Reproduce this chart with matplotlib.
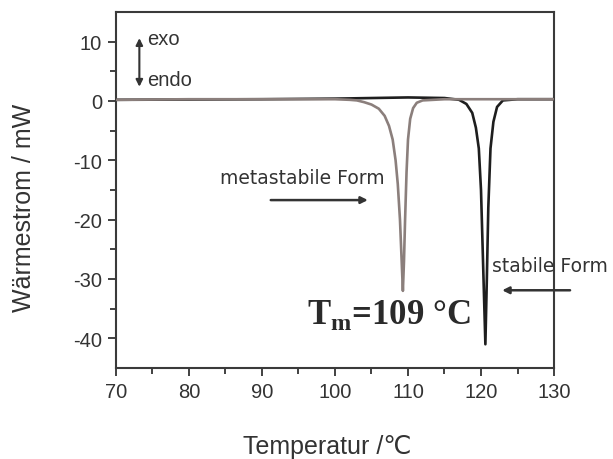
import matplotlib
matplotlib.use("Agg")
import matplotlib.pyplot as plt

# --- data ---
grey_T = [70, 80, 90, 100, 102, 103, 104, 105, 106, 106.8, 107.4, 107.9, 108.3, 108.6,
          108.9, 109.1, 109.3, 109.45, 109.6, 109.8, 110.0, 110.3, 110.7, 111.2, 112,
          115, 120, 125, 130]
grey_Q = [0.2, 0.3, 0.3, 0.3, 0.2, 0.1, -0.2, -0.6, -1.3, -2.5, -4.2, -6.5, -10, -14,
          -20, -26, -32, -27, -20, -12, -6.5, -3, -1.2, -0.3, 0.1,
          0.3, 0.3, 0.3, 0.3]

black_T = [70, 90, 100, 105, 110, 115, 117, 118, 118.8, 119.3, 119.7, 120.0, 120.3,
           120.6, 120.8, 121.0, 121.3, 121.7, 122.2, 123, 125, 130]
black_Q = [0.2, 0.3, 0.4, 0.5, 0.6, 0.5, 0.2, -0.5, -2, -4.5, -8, -15, -28,
           -41, -30, -18, -8, -3.5, -1, 0.1, 0.3, 0.3]

x_ticks = [70, 80, 90, 100, 110, 120, 130]
y_ticks = [10, 0, -10, -20, -30, -40]

TXT = "#333333"
SANS = ["Liberation Sans", "DejaVu Sans"]
plt.rcParams["font.family"] = SANS
plt.rcParams["axes.unicode_minus"] = False

fig = plt.figure(figsize=(6.13, 4.6), dpi=100)
ax = fig.add_axes([116/613, 1-369/460, (554-116)/613, (369-13)/460])

ax.plot(black_T, black_Q, color="#1e1e1e", lw=1.9, zorder=3)
ax.plot(grey_T, grey_Q, color="#8b7f7c", lw=1.9, zorder=4)

ax.set_xlim(70, 130)
ax.set_ylim(-45, 15)
ax.set_xticks(x_ticks)
ax.set_yticks(y_ticks)
ax.set_xticks([75, 85, 95, 105, 115, 125], minor=True)
ax.set_yticks([5, -5, -15, -25, -35], minor=True)
ax.tick_params(axis="both", which="major", direction="out", length=6, width=1.3,
               labelsize=14.5, colors=TXT, pad=4)
ax.tick_params(axis="both", which="minor", direction="out", length=4, width=1.3, colors=TXT)
ax.tick_params(axis="both", which="both", top=False, right=False)
for s in ax.spines.values():
    s.set_color("#3a3a3a")
    s.set_linewidth(1.5)

# exo / endo
ax.annotate("", xy=(73.2, 10.6), xytext=(73.2, 2.4),
            arrowprops=dict(arrowstyle="<|-|>", color="#333333", lw=1.5,
                            mutation_scale=10, shrinkA=0, shrinkB=0))
ax.text(74.3, 10.6, "exo", fontsize=14.5, color=TXT, va="center", ha="left")
ax.text(74.3, 3.6, "endo", fontsize=14.5, color=TXT, va="center", ha="left")

# metastabile Form
ax.text(84.2, -12.9, "metastabile Form", fontsize=13.5, color=TXT, va="center", ha="left",
        family=["DejaVu Sans"])
ax.annotate("", xy=(104.5, -16.7), xytext=(91.2, -16.7),
            arrowprops=dict(arrowstyle="-|>", color="#333333", lw=1.8,
                            mutation_scale=10, shrinkA=0, shrinkB=0))

# stabile Form
ax.text(121.5, -27.7, "stabile Form", fontsize=13.5, color=TXT, va="center", ha="left",
        clip_on=False, family=["DejaVu Sans"])
ax.annotate("", xy=(122.9, -31.9), xytext=(132.2, -31.9), annotation_clip=False,
            arrowprops=dict(arrowstyle="-|>", color="#333333", lw=1.8,
                            mutation_scale=10, shrinkA=0, shrinkB=0))

# Tm label
ax.text(96.2, -37.5, r"T$_\mathregular{m}$=109 °C", fontsize=25, fontweight="bold",
        family=["Liberation Serif", "DejaVu Serif"], color="#2a2a2a",
        va="baseline", ha="left")

fig.text(327/613, 1-447/460, "Temperatur /℃", fontsize=18, color=TXT,
         ha="center", va="center")
fig.text(24/613, 1-208/460, "Wärmestrom / mW", fontsize=18, color=TXT,
         ha="center", va="center", rotation=90)

fig.savefig("out.png", dpi=100, facecolor="white")
